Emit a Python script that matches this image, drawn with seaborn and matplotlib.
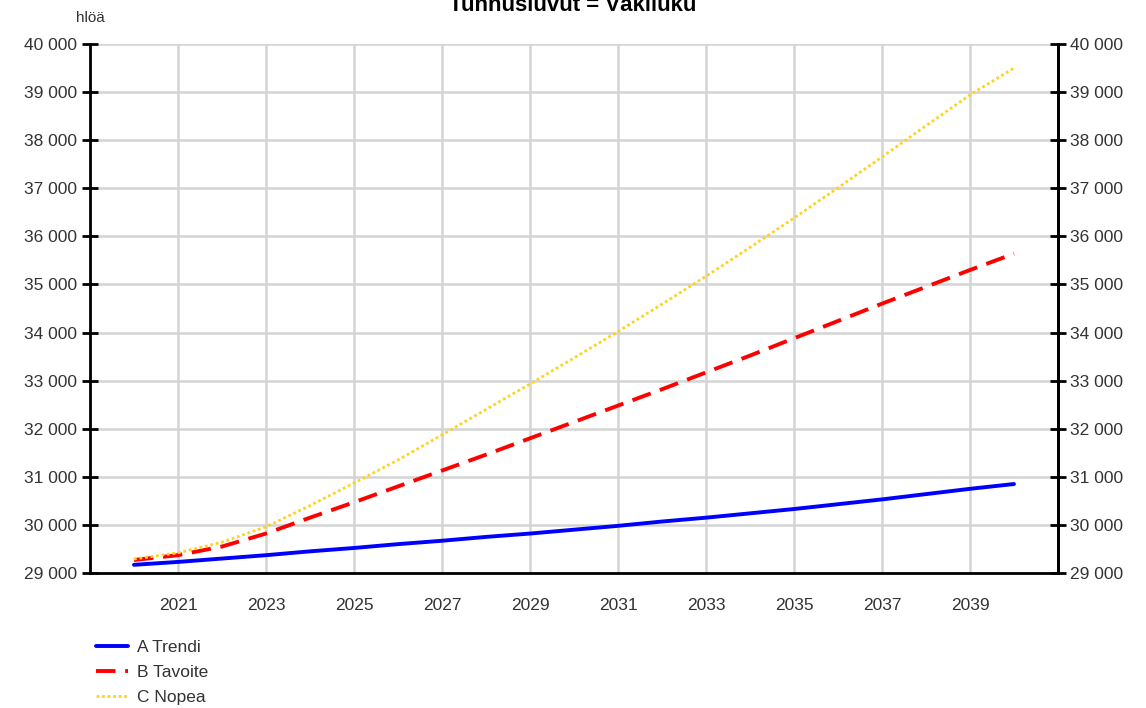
import matplotlib
matplotlib.use("Agg")
import matplotlib.pyplot as plt
import matplotlib.ticker as mticker
import seaborn as sns
import pandas as pd

years = list(range(2020, 2041))

trendi = [29170, 29230, 29300, 29370, 29450, 29520, 29600, 29670, 29750, 29820,
          29900, 29980, 30070, 30150, 30240, 30330, 30430, 30530, 30640, 30750, 30850]
tavoite = [29270, 29370, 29550, 29820, 30150, 30470, 30800, 31130, 31460, 31800,
           32140, 32480, 32820, 33170, 33520, 33880, 34240, 34600, 34950, 35300, 35640]
nopea = [29290, 29420, 29640, 29960, 30400, 30870, 31350, 31870, 32400, 32930,
         33470, 34020, 34590, 35170, 35770, 36380, 37010, 37650, 38300, 38940, 39500]

series_names = ["A Trendi", "B Tavoite", "C Nopea"]
x_ticks = list(range(2019, 2042, 2))
y_ticks = list(range(29000, 40001, 1000))

df = pd.DataFrame({
    "vuosi": years * 3,
    "hloa": trendi + tavoite + nopea,
    "skenaario": [series_names[0]] * len(years) + [series_names[1]] * len(years)
                 + [series_names[2]] * len(years),
})

sns.set_style("white")
plt.rcParams["font.family"] = ["Liberation Sans", "DejaVu Sans"]

fig = plt.figure(figsize=(11.46, 7.08), dpi=100)
ax = fig.add_axes([0.0785, 0.1907, 0.8447, 0.7472])

colors = {"A Trendi": "#0000ff", "B Tavoite": "#ff0000", "C Nopea": "#ffd21f"}
styles = {"A Trendi": "-", "B Tavoite": (0, (5, 2.5)), "C Nopea": (0, (1, 1))}
widths = {"A Trendi": 2.8, "B Tavoite": 2.8, "C Nopea": 2.0}

for name in series_names:
    sns.lineplot(data=df[df["skenaario"] == name], x="vuosi", y="hloa",
                 color=colors[name], linestyle=styles[name],
                 linewidth=widths[name], label=name, ax=ax, zorder=3)

ax.set_xlim(2019, 2041)
ax.set_ylim(29000, 40000)
ax.set_xticks(x_ticks)
ax.set_xticklabels(["" if (y == 2019 or y == 2041) else str(y) for y in x_ticks])
ax.set_yticks(y_ticks)
fmt = mticker.FuncFormatter(lambda v, p: f"{int(v):,}".replace(",", " "))
ax.yaxis.set_major_formatter(fmt)
ax.set_xlabel("")
ax.set_ylabel("")
ax.grid(True, color="#d4d4d4", linewidth=1.8, zorder=0)

for side in ["left", "right", "bottom"]:
    ax.spines[side].set_color("black")
    ax.spines[side].set_linewidth(2)
ax.spines["top"].set_visible(False)

ax.tick_params(axis="x", direction="out", length=10, width=2, colors="black",
               labelcolor="#333333", labelsize=12.5, pad=8)
ax.tick_params(axis="y", direction="inout", length=12, width=2, colors="black",
               labelcolor="#333333", labelsize=12.5, pad=3)

ax2 = ax.twinx()
ax2.set_ylim(29000, 40000)
ax2.set_yticks(y_ticks)
ax2.yaxis.set_major_formatter(fmt)
for side in ["left", "top", "bottom"]:
    ax2.spines[side].set_visible(False)
ax2.spines["right"].set_color("black")
ax2.spines["right"].set_linewidth(2)
ax2.tick_params(axis="y", direction="inout", length=12, width=2, colors="black",
                labelcolor="#333333", labelsize=12.5, pad=3)

leg = ax.legend(loc="upper left", bbox_to_anchor=(0.0065, -0.126),
                bbox_transform=ax.transAxes, frameon=False, fontsize=12.5,
                handlelength=1.85, handletextpad=0.5, labelspacing=0.58,
                borderaxespad=0, borderpad=0)
for t in leg.get_texts():
    t.set_color("#333333")

fig.text(0.0785, 0.975, "hlöä", ha="center", va="center", fontsize=11, color="#333333")
fig.text(0.50, 0.992, "Tunnusluvut = Väkiluku", ha="center", va="center",
         fontsize=16, fontweight="bold", color="black")

fig.savefig("out.png", dpi=100)
